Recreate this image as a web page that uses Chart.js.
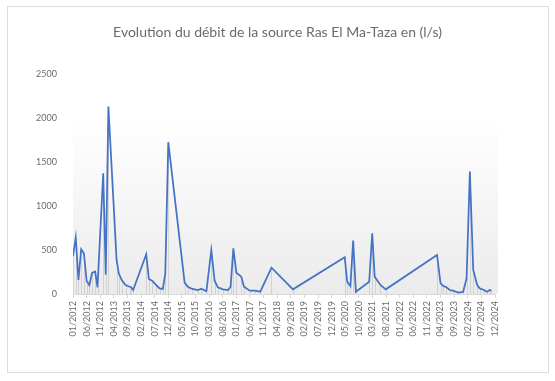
<!DOCTYPE html>
<html>
<head>
<meta charset="utf-8">
<script src="https://cdn.jsdelivr.net/npm/chart.js@4.4.1/dist/chart.umd.min.js"></script>
<style>
html,body{margin:0;padding:0;background:#fff;}
#wrap{position:relative;width:555px;height:381px;}
#frame{position:absolute;left:7px;top:6px;width:540px;height:365px;border:1px solid #dcdcdc;pointer-events:none;}
canvas{position:absolute;left:0;top:0;}
</style>
</head>
<body>
<div id="wrap">
  <canvas id="c" width="555" height="381"></canvas>
  <div id="frame"></div>
</div>
<script>
/* ===== données ===== */
const TITLE='Evolution du débit de la source Ras El Ma-Taza en (l/s)';
const START_YEAR=2012;
const dates=[
  '2012-01-01','2012-02-01','2012-03-01','2012-04-01','2012-05-01','2012-06-01','2012-07-01','2012-08-01',
  '2012-09-05','2012-10-01','2012-12-04','2013-01-02','2013-02-01','2013-05-01','2013-05-25','2013-06-28',
  '2013-08-10','2013-09-25','2013-10-12','2013-11-04','2014-03-28','2014-04-27','2014-06-03','2014-07-18',
  '2014-08-25','2014-10-01','2014-10-28','2014-12-01','2015-06-01','2015-07-06','2015-08-25','2015-10-28',
  '2015-12-04','2016-02-01','2016-03-25','2016-05-01','2016-06-07','2016-08-03','2016-09-28','2016-10-28',
  '2016-11-28','2017-01-01','2017-02-25','2017-03-25','2017-05-28','2017-07-22','2017-09-25','2018-01-28',
  '2018-09-25','2020-04-25','2020-05-22','2020-06-28','2020-07-28','2020-08-28','2021-01-25','2021-02-28',
  '2021-03-25','2021-05-28','2021-07-28','2023-02-22','2023-04-01','2023-05-01','2023-06-06','2023-07-12',
  '2023-08-18','2023-10-15','2023-12-10','2024-01-18','2024-02-24','2024-04-01','2024-05-15','2024-06-12',
  '2024-07-28','2024-09-03','2024-10-03','2024-10-22'
];
const debit=[
  430,640,159,508,462,150,100,240,
  255,75,1371,220,2128,390,235,159,
  102,83,76,45,451,170,151,102,
  64,57,235,1724,129,83,57,45,
  60,31,500,151,76,53,45,83,
  519,242,197,83,38,38,26,299,
  53,417,140,91,606,26,140,689,
  197,102,53,443,121,91,76,45,
  38,15,23,178,1390,273,102,64,
  45,26,45,38
];
const yTicks=[0,500,1000,1500,2000,2500];

/* ===== conversion date -> mois depuis 01/2012 ===== */
function toMonth(d){
  const [y,m,dd]=d.split('-').map(Number);
  return (y-START_YEAR)*12+(m-1)+(dd-1)/30;
}
function monthLabel(v){
  const y=START_YEAR+Math.floor(v/12);
  const mo=Math.round(v%12)+1;
  return (mo<10?'0':'')+mo+'/'+y;
}
const points=dates.map((d,i)=>({x:toMonth(d),y:debit[i]}));

/* ===== plugins : fond dégradé + lignes de projection ===== */
const plotBg={
  id:'plotBg',
  beforeDraw(chart){
    const {ctx,chartArea:a}=chart;
    const g=ctx.createLinearGradient(0,a.top,0,a.bottom);
    g.addColorStop(0,'#ffffff');
    g.addColorStop(0.2,'#ffffff');
    g.addColorStop(1,'#ebebeb');
    ctx.save(); ctx.fillStyle=g;
    ctx.fillRect(a.left,a.top,a.right-a.left+3,a.bottom-a.top);
    ctx.restore();
  }
};
const dropLines={
  id:'dropLines',
  beforeDatasetsDraw(chart){
    const ctx=chart.ctx, b=chart.chartArea.bottom;
    ctx.save(); ctx.strokeStyle='rgba(190,190,190,0.55)'; ctx.lineWidth=1;
    chart.getDatasetMeta(0).data.forEach(p=>{
      const x=Math.round(p.x)+0.5;
      ctx.beginPath(); ctx.moveTo(x,p.y); ctx.lineTo(x,b); ctx.stroke();
    });
    ctx.restore();
  }
};

const FONT="Lato, 'Open Sans', sans-serif";
new Chart(document.getElementById('c'),{
  type:'line',
  data:{datasets:[{
    data:points,
    borderColor:'#4472c4',
    borderWidth:1.75,
    pointRadius:0,
    tension:0,
    fill:false
  }]},
  options:{
    responsive:false,
    animation:false,
    layout:{padding:0},
    plugins:{
      legend:{display:false},
      tooltip:{enabled:false},
      title:{display:true,text:TITLE,color:'#6b6b6b',
        font:{family:FONT,size:14,weight:'normal'},padding:{top:24,bottom:33}}
    },
    scales:{
      x:{
        type:'linear',min:0,max:155,
        afterFit(s){ s.height=87; },
        ticks:{stepSize:5,autoSkip:false,maxRotation:90,minRotation:90,padding:3,
          color:'#6b6b6b',font:{family:FONT,size:9},callback:v=>monthLabel(v)},
        grid:{drawOnChartArea:false,drawTicks:true,tickLength:4,color:'#d9d9d9'},
        border:{display:true,color:'#d9d9d9'}
      },
      y:{
        min:0,max:2500,
        afterFit(s){ s.width=73; },
        afterBuildTicks(s){ s.ticks=yTicks.map(v=>({value:v})); },
        ticks:{padding:8,color:'#6b6b6b',font:{family:FONT,size:9},callback:v=>String(v)},
        grid:{display:false},
        border:{display:false}
      },
      yR:{
        position:'right',min:0,max:2500,
        afterFit(s){ s.width=60; },
        ticks:{display:false},
        grid:{display:false},
        border:{display:false}
      }
    }
  },
  plugins:[plotBg,dropLines]
});
</script>
</body>
</html>
